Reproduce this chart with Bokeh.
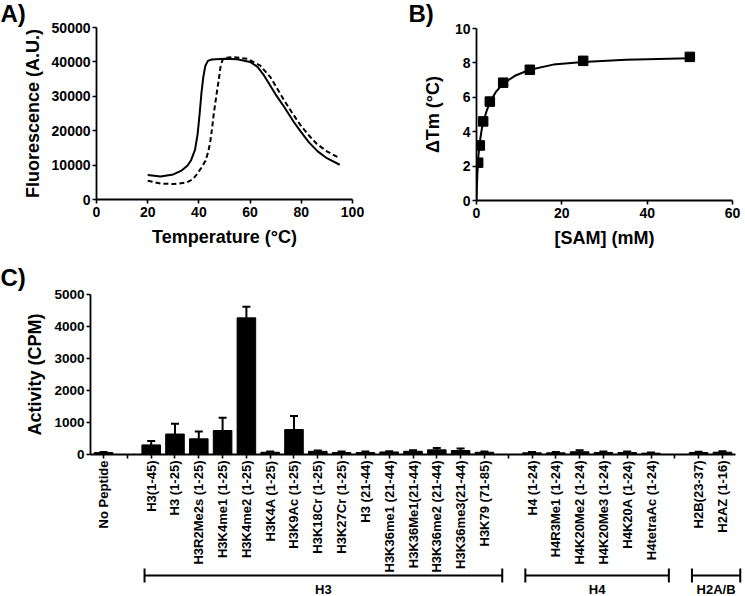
import numpy as np
from bokeh.plotting import figure
from bokeh.layouts import column, row
from bokeh.models import (FixedTicker, Label, Whisker, TeeHead, ColumnDataSource, Range1d, Title)
from bokeh.embed import file_html
from bokeh.resources import INLINE

FONT = "Liberation Sans"

# ---------------- Panel A: thermal melt curves ----------------
temp_solid = [20, 25, 30, 33, 35.5, 37, 38.5, 39.5, 40.3, 41, 41.7, 42.5, 43.5, 45, 50, 55, 60, 63,
              65.5, 70, 73.4, 77, 80, 83, 86.4, 90, 95]
fluo_solid = [7100, 6700, 7300, 8300, 9800, 11500, 14500, 19000, 25000, 31000, 35500, 38800, 40300,
              40700, 40900, 40800, 40000, 38500, 36000, 30500, 26800, 22600, 19500, 16600, 14000,
              12000, 10100]
temp_dashed = [20, 25, 30, 35, 37.5, 39.3, 41, 42.6, 43.7, 44.5, 45.2, 45.8, 46.5, 47.1, 47.8, 48.4,
               49.2, 50, 53.5, 59, 64, 68, 73, 76.5, 79.6, 83, 86, 90, 95]
fluo_dashed = [5450, 4650, 4480, 4900, 5800, 7400, 9300, 11300, 14000, 17100, 21000, 24900, 28500,
               31650, 35000, 38400, 40500, 41200, 41400, 40900, 38900, 35500, 29200, 25100, 21700,
               18600, 16200, 14000, 12000]

# ---------------- Panel B: delta Tm vs [SAM] ----------------
sam_conc = [0.39, 0.78, 1.56, 3.125, 6.25, 12.5, 25, 50]
delta_tm = [2.2, 3.2, 4.6, 5.75, 6.85, 7.6, 8.12, 8.35]
fit_conc = [0, 0.1, 0.2, 0.39, 0.78, 1.2, 1.56, 2.3, 3.125, 4.5, 6.25, 9, 12.5, 18, 25, 35, 50]
fit_tm = [0, 0.9, 1.5, 2.45, 3.4, 4.1, 4.55, 5.15, 5.7, 6.3, 6.8, 7.25, 7.6, 7.9, 8.05, 8.18, 8.27]

# ---------------- Panel C: activity on peptides ----------------
peptides = ["No Peptide", "H3(1-45)", "H3 (1-25)", "H3R2Me2s (1-25)", "H3K4me1 (1-25)",
            "H3K4me2 (1-25)", "H3K4A (1-25)", "H3K9Ac (1-25)", "H3K18Cr (1-25)", "H3K27Cr (1-25)",
            "H3 (21-44)", "H3K36me1 (21-44)", "H3K36Me1(21-44)", "H3K36me2 (21-44)",
            "H3K36me3(21-44)", "H3K79 (71-85)", "H4 (1-24)", "H4R3Me1 (1-24)", "H4K20Me2 (1-24)",
            "H4K20Me3 (1-24)", "H4K20A (1-24)", "H4tetraAc (1-24)", "H2B(23-37)", "H2AZ (1-16)"]
peptide_group = ["none"] + ["H3"] * 15 + ["H4"] * 6 + ["H2A/B"] * 2
activity = [60, 300, 640, 490, 750, 4270, 70, 780, 100, 60, 60, 80, 100, 145, 125, 70,
            52, 52, 85, 62, 62, 42, 62, 72]
activity_err = [20, 120, 320, 230, 400, 350, 20, 420, 25, 30, 35, 20, 35, 55, 65, 25,
                30, 30, 50, 30, 30, 20, 25, 30]
group_names = ["H3", "H4", "H2A/B"]
panel_letters = ["A)", "B)"]


def style(p, xticks, yticks, tick_size="14px"):
    p.outline_line_color = None
    p.xgrid.visible = False
    p.ygrid.visible = False
    p.xaxis.ticker = FixedTicker(ticks=xticks)
    p.yaxis.ticker = FixedTicker(ticks=yticks)
    for ax in (p.xaxis[0], p.yaxis[0]):
        ax.axis_line_width = 1.8
        ax.axis_line_color = "black"
        ax.major_tick_line_width = 1.6
        ax.major_tick_line_color = "black"
        ax.major_tick_out = 4
        ax.major_tick_in = 0
        ax.minor_tick_line_color = None
        ax.major_label_text_font = FONT
        ax.major_label_text_font_style = "bold"
        ax.major_label_text_font_size = tick_size
        ax.major_label_text_color = "black"
        ax.axis_label_text_font = FONT
        ax.axis_label_text_font_style = "bold"
        ax.axis_label_text_font_size = "18px"
        ax.axis_label_text_color = "black"
    p.xaxis.major_label_standoff = 3
    p.xaxis.axis_label_standoff = 7
    p.yaxis.major_label_standoff = 2
    p.yaxis.axis_label_standoff = 6


def strip(width, height, x_end, left=0, margin=None):
    s = figure(width=width, height=height, output_backend="svg", toolbar_location=None,
               x_range=Range1d(0, x_end), y_range=Range1d(0, height),
               x_axis_type=None, y_axis_type=None,
               min_border_left=left, min_border_right=0, min_border_top=0, min_border_bottom=0,
               margin=margin, frame_align=False)
    s.outline_line_color = None
    s.background_fill_color = None
    s.border_fill_color = None
    s.xgrid.visible = False
    s.ygrid.visible = False
    return s


H1 = 255
FW = 256

# strip carrying the panel letters A) and B), drawn behind the top row
TOP_H = 27
pTop = strip(745, TOP_H, 745)
for t, lx in zip(panel_letters, [0, 408]):
    pTop.add_layout(Label(x=lx, y=TOP_H - 12.5, text=t, text_font=FONT, text_font_style="bold",
                          text_font_size="24px", text_align="left", text_baseline="middle",
                          text_color="black"))

A_L, A_R, A_T, A_B = 96, 40, 27, 56
pA = figure(width=A_L + FW + A_R, height=H1, output_backend="svg", toolbar_location=None,
            x_range=Range1d(0, 100), y_range=Range1d(0, 50000), frame_align=False,
            min_border_left=A_L, min_border_right=A_R, min_border_top=A_T, min_border_bottom=A_B,
            x_axis_label="Temperature (°C)", y_axis_label="Fluorescence (A.U.)")
style(pA, [0, 20, 40, 60, 80, 100], [0, 10000, 20000, 30000, 40000, 50000])
pA.border_fill_color = None
pA.line(temp_solid, fluo_solid, line_color="black", line_width=2)
pA.line(temp_dashed, fluo_dashed, line_color="black", line_width=2, line_dash="5 3")

B_L, B_R, B_T, B_B = 84, 13, 28, 55
pB = figure(width=B_L + FW + B_R, height=H1, output_backend="svg", toolbar_location=None,
            x_range=Range1d(0, 60), y_range=Range1d(0, 10), frame_align=False,
            min_border_left=B_L, min_border_right=B_R, min_border_top=B_T, min_border_bottom=B_B,
            x_axis_label="[SAM] (mM)", y_axis_label="ΔTm (°C)")
style(pB, [0, 20, 40, 60], [0, 2, 4, 6, 8, 10])
pB.border_fill_color = None
pB.yaxis.axis_label_standoff = 9
pB.line(fit_conc, fit_tm, line_color="black", line_width=2)
pB.scatter(sam_conc, delta_tm, marker="square", size=9.5, fill_color="black", line_color="black")

# ---- Panel C ----
xs, gaps = [], []
slot, prev = 0, None
for g in peptide_group:
    if prev is not None and g != prev:
        gaps.append(slot)
        slot += 1
    xs.append(slot)
    slot += 1
    prev = g

C_L, C_R, C_T, C_FH, C_B = 90, 10, 39, 160, 122
C_W = 745
C_FW = C_W - C_L - C_R
x0, x1 = -0.55, slot - 1 + 0.55
ymax = 5000
pC = figure(width=C_W, height=C_T + C_FH + C_B, output_backend="svg", toolbar_location=None,
            x_range=Range1d(x0, x1), y_range=Range1d(0, ymax), frame_align=False,
            min_border_left=C_L, min_border_right=C_R, min_border_top=C_T, min_border_bottom=C_B,
            y_axis_label="Activity (CPM)")
style(pC, sorted(xs + gaps), [0, 1000, 2000, 3000, 4000, 5000], tick_size="13.5px")
pC.xaxis.major_label_text_font_size = "13px"
pC.xaxis.major_label_orientation = np.pi / 2
pC.xaxis.major_label_standoff = 2
overrides = {x: name for x, name in zip(xs, peptides)}
overrides.update({g: "" for g in gaps})
pC.xaxis.major_label_overrides = overrides
pC.add_layout(Title(text="C)", align="left", offset=-C_L, standoff=7,
                    text_font=FONT, text_font_style="bold", text_font_size="24px",
                    text_color="black"), "above")

src = ColumnDataSource(dict(x=xs, top=activity,
                            upper=[a + e for a, e in zip(activity, activity_err)]))
pC.vbar(x="x", top="top", bottom=0, width=0.78, source=src, fill_color="black", line_color="black")
pC.add_layout(Whisker(source=src, base="x", lower="top", upper="upper", dimension="height",
                      lower_head=None,
                      upper_head=TeeHead(size=8, line_width=2, line_color="black"),
                      line_width=2, line_color="black"))

# ---- group brackets (transparent strip overlapping the bottom of the label area) ----
D_H, D_OVER = 32, 12
px_per_slot = C_FW / (x1 - x0)
D_FW = C_W - C_L
pD = strip(C_W, D_H, 1, left=C_L, margin=(-D_OVER, 0, 0, 0))
pD.x_range = Range1d(x0, x0 + D_FW / px_per_slot)

gstart = [min(x for x, g in zip(xs, peptide_group) if g == n) - 0.28 for n in group_names]
gend = [max(x for x, g in zip(xs, peptide_group) if g == n) + 0.75 for n in group_names]
bsrc = ColumnDataSource(dict(base=[D_H - 11] * 3, lower=gstart, upper=gend))
pD.add_layout(Whisker(source=bsrc, base="base", lower="lower", upper="upper", dimension="width",
                      lower_head=TeeHead(size=14, line_width=2, line_color="black"),
                      upper_head=TeeHead(size=14, line_width=2, line_color="black"),
                      line_width=2, line_color="black"))
for n, s, e in zip(group_names, gstart, gend):
    pD.add_layout(Label(x=(s + e) / 2, y=D_H - 24.5, text=n, text_font=FONT,
                        text_font_style="bold", text_font_size="13px", text_align="center",
                        text_baseline="middle", text_line_height=1.0, text_color="black"))

top_row = row(pA, pB, margin=(-TOP_H, 0, 0, 0))
layout = column(pTop, top_row, pC, pD)
open("out.html", "w").write(file_html(layout, INLINE))
